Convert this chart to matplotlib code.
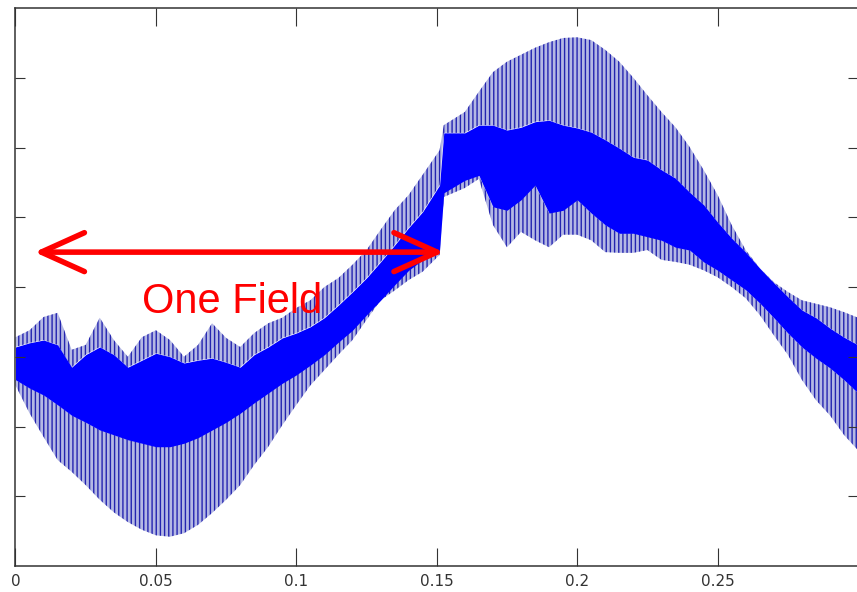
import matplotlib
matplotlib.use('Agg')
import matplotlib.pyplot as plt
from matplotlib.patches import FancyArrowPatch

# sample times (s)
time = [0.000, 0.005, 0.010, 0.015, 0.020, 0.025, 0.030, 0.035, 0.040, 0.045,
        0.050, 0.055, 0.060, 0.065, 0.070, 0.075, 0.080, 0.085, 0.090, 0.095,
        0.100, 0.105, 0.110, 0.115, 0.120, 0.125, 0.130, 0.135, 0.140, 0.145,
        0.151, 0.1525, 0.160, 0.165, 0.170, 0.175, 0.180, 0.185, 0.190, 0.195,
        0.200, 0.205, 0.210, 0.215, 0.220, 0.225, 0.230, 0.235, 0.240, 0.245,
        0.250, 0.255, 0.260, 0.265, 0.270, 0.275, 0.280, 0.285, 0.290, 0.295,
        0.300]

# upper spike tips
tip_upper = [-0.72, -0.62, -0.43, -0.37, -0.90, -0.83, -0.44, -0.76, -1.00, -0.72,
             -0.62, -0.76, -1.00, -0.83, -0.52, -0.73, -0.86, -0.66, -0.52, -0.44,
             -0.30, -0.19, 0.00, 0.13, 0.32, 0.53, 0.82, 1.10, 1.32, 1.61,
             1.96, 2.32, 2.51, 2.80, 3.08, 3.23, 3.33, 3.43, 3.51, 3.57,
             3.58, 3.54, 3.40, 3.23, 3.00, 2.75, 2.51, 2.29, 2.01, 1.68,
             1.32, 0.89, 0.53, 0.27, 0.07, -0.07, -0.19, -0.24, -0.29, -0.36,
             -0.44]

# solid band (dense core of the signal)
core_upper = [-0.86, -0.80, -0.76, -0.83, -1.15, -0.97, -0.86, -0.97, -1.15, -1.05,
              -0.95, -1.00, -1.09, -1.05, -1.02, -1.08, -1.15, -0.97, -0.86, -0.73,
              -0.66, -0.57, -0.44, -0.26, -0.07, 0.13, 0.36, 0.60, 0.85, 1.08,
              1.46, 2.21, 2.21, 2.32, 2.32, 2.25, 2.29, 2.37, 2.39, 2.32,
              2.28, 2.22, 2.11, 1.99, 1.86, 1.82, 1.68, 1.56, 1.36, 1.18,
              0.93, 0.70, 0.50, 0.27, 0.06, -0.14, -0.33, -0.44, -0.59, -0.72,
              -0.83]
core_lower = [-1.33, -1.45, -1.55, -1.69, -1.84, -1.94, -2.05, -2.12, -2.19, -2.24,
              -2.29, -2.29, -2.24, -2.16, -2.05, -1.94, -1.81, -1.66, -1.52, -1.38,
              -1.26, -1.12, -0.97, -0.79, -0.62, -0.40, -0.19, 0.03, 0.24, 0.39,
              0.53, 1.35, 1.53, 1.60, 1.15, 1.10, 1.25, 1.46, 1.06, 1.10,
              1.25, 1.06, 0.89, 0.77, 0.77, 0.72, 0.67, 0.57, 0.53, 0.36,
              0.24, 0.10, -0.04, -0.23, -0.44, -0.66, -0.86, -1.02, -1.16, -1.33,
              -1.52]

# lower spike tips
tip_lower = [-1.41, -1.81, -2.15, -2.48, -2.65, -2.84, -3.05, -3.23, -3.37, -3.48,
             -3.56, -3.58, -3.53, -3.41, -3.24, -3.05, -2.84, -2.55, -2.29, -1.98,
             -1.69, -1.41, -1.19, -0.97, -0.76, -0.47, -0.19, -0.05, 0.10, 0.22,
             0.46, 1.29, 1.42, 1.55, 0.89, 0.57, 0.79, 0.67, 0.57, 0.75,
             0.75, 0.67, 0.50, 0.49, 0.49, 0.53, 0.39, 0.36, 0.32, 0.24,
             0.14, 0.00, -0.16, -0.40, -0.69, -0.97, -1.33, -1.62, -1.84, -2.12,
             -2.34]

x_ticks = [0, 0.05, 0.1, 0.15, 0.2, 0.25, 0.3]
x_labels = ['0', '0.05', '0.1', '0.15', '0.2', '0.25', '']   # 0.3 falls off the edge
y_ticks = [-3, -2, -1, 0, 1, 2, 3]

field_start, field_end, field_level = 0.0068, 0.1525, 0.50

plt.rcParams['hatch.linewidth'] = 1.0

fig = plt.figure(figsize=(8.57, 5.92), dpi=100)
ax = fig.add_axes([15.5 / 857, 26 / 592, 842.5 / 857, 558 / 592])

# spike regions: vertical hatching stands in for the individual spikes
spike_kw = dict(facecolor='#b4b8e4', edgecolor='#2424b0', hatch='||||', linewidth=0)
ax.fill_between(time, core_upper, tip_upper, **spike_kw)
ax.fill_between(time, tip_lower, core_lower, **spike_kw)
ax.fill_between(time, core_lower, core_upper, color='#0000ff', linewidth=0)

ax.set_xlim(0, 0.3)
ax.set_ylim(-4, 4)
ax.set_xticks(x_ticks)
ax.set_xticklabels(x_labels)
ax.set_yticks(y_ticks)
ax.set_yticklabels([])
ax.tick_params(axis='x', direction='in', top=True, length=13, width=0.8,
               color='#333333', labelcolor='#333333', labelsize=11, pad=6)
ax.tick_params(axis='y', direction='in', right=True, length=7, width=0.8,
               color='#333333')
for lab in ax.get_xticklabels():
    lab.set_family(['Liberation Sans Narrow', 'DejaVu Sans'])
for sp in ax.spines.values():
    sp.set_color('#333333')
    sp.set_linewidth(1.1)

# red double arrow marking one field
arrow = FancyArrowPatch((field_start, field_level), (field_end, field_level),
                        arrowstyle='<->,head_length=31,head_width=14',
                        mutation_scale=1, shrinkA=0, shrinkB=0,
                        color='#ff0000', linewidth=4.0,
                        capstyle='round', joinstyle='round', zorder=5)
ax.add_patch(arrow)
ax.text(0.0452, -0.373, 'One Field', color='#ff0000', fontsize=30,
        family='Liberation Sans', ha='left', va='baseline', zorder=5)

fig.savefig('out.png', dpi=100)
